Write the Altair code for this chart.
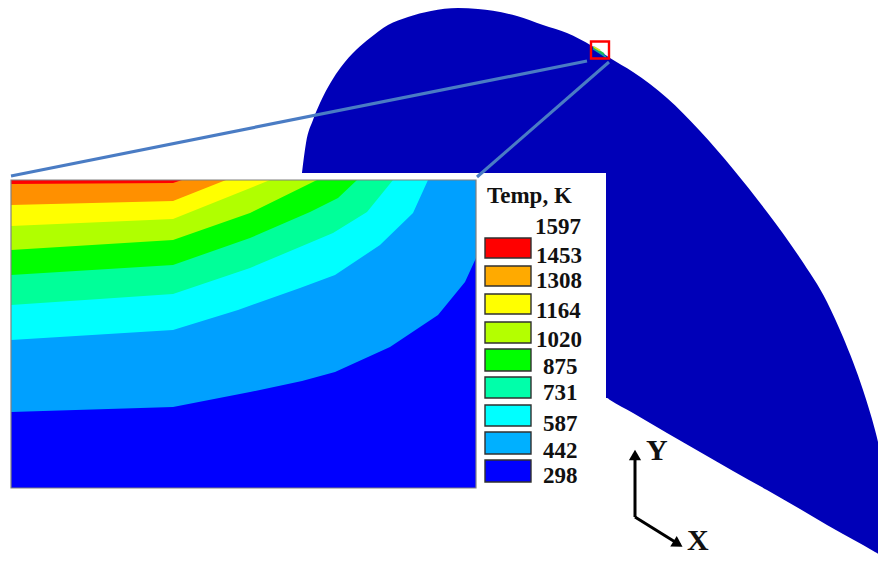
import altair as alt
import pandas as pd

# Outer dome outline
dome_x = [302, 306, 313, 320, 331, 341, 356, 370, 388, 408, 431, 458, 478, 493, 517, 543, 567, 592, 607, 610, 633, 667, 700, 733, 767, 800, 827, 843, 863, 875, 886]
dome_top = [172.7, 143, 120, 103, 82, 67, 50, 38, 25, 17, 11, 8, 9, 10.7, 16, 25, 33, 46, 56, 58, 72, 98, 131, 169, 212, 258, 302, 337, 390, 430, 477]
dome_bottom = [398, 398, 398, 398, 398, 398, 398, 398, 398, 398, 398, 398, 398, 398, 398, 398, 398, 398, 398, 400, 413, 433, 452, 471, 490, 509, 525, 534, 545, 552, 558]

# Isotherm boundaries of the inset, coldest first
iso_colors = ["#0000ff", "#00a0ff", "#00ffff", "#00ff99", "#00ff00", "#b0ff00", "#ffff00", "#ff9000"]
iso_x = [
    [11, 173, 250, 302, 335, 390, 438, 465, 476],
    [11, 173, 238, 300, 335, 380, 413, 428, 476],
    [11, 173, 250, 333, 367, 393, 476],
    [11, 173, 250, 310, 338, 357, 476],
    [11, 173, 250, 317, 476],
    [11, 173, 270, 476],
    [11, 173, 226, 476],
    [11, 173, 182, 476],
]
iso_y = [
    [412, 407, 392, 381, 372, 347, 315, 282, 258],
    [340, 330, 310, 288, 275, 245, 213, 180, 180],
    [305, 294, 268, 233, 212, 180, 180],
    [275, 265, 238, 212, 198, 180, 180],
    [250, 240, 213, 180, 180],
    [226, 219, 180, 180],
    [205, 201, 180, 180],
    [184, 183, 180, 180],
]

# Legend
legend_colors = ["#ff0000", "#ffaa00", "#ffff00", "#b4ff00", "#00ff00", "#00ffaa", "#00ffff", "#00b0ff", "#0000ff"]
legend_top = [238, 266, 294, 322, 349, 377, 405, 432, 460]
legend_bottom = [258, 286, 314, 343, 371, 398, 426, 454, 482]
label_text = ["1597", "1453", "1308", "1164", "1020", "875", "731", "587", "442", "298"]
label_x = [535, 536, 536, 536, 536, 543, 543, 543, 543, 543]
label_y = [234, 263, 288, 318, 347, 374, 400, 431, 458, 483]

# Zoom guides
guide_x = [[11, 587], [477, 609]]
guide_y = [[176, 61], [177, 62]]

# Small coloured strip inside the red box
mini_colors = ["#10a0a0", "#20c050", "#d8e020"]
mini_x = [[593, 606], [593, 604], [594, 600]]
mini_y = [[48.5, 57], [47, 54], [47, 50.5]]

xs = alt.Scale(domain=[8, 878], nice=False, zero=False, padding=0, range=[0, 870])
ys = alt.Scale(domain=[8, 557], nice=False, zero=False, padding=0, range=[0, 549])
X = lambda f="x": alt.X(f"{f}:Q", scale=xs, axis=None)
Y = lambda f="y": alt.Y(f"{f}:Q", scale=ys, axis=None)

layers = []

# dome
layers.append(alt.Chart(pd.DataFrame({"x": dome_x, "y": dome_top, "y2": dome_bottom}))
              .mark_area(color="#0000b8", interpolate="monotone")
              .encode(x=X(), y=Y(), y2="y2:Q"))


def rect(x, x2, y, y2, **kw):
    return alt.Chart(pd.DataFrame({"x": [x], "x2": [x2], "y": [y], "y2": [y2]})).mark_rect(**kw).encode(
        x=X(), x2="x2:Q", y=Y(), y2="y2:Q")


# white panel
layers.append(rect(8, 606, 173, 500, color="#ffffff"))
# inset base (hottest band)
layers.append(rect(11, 476, 180, 488, color="#ff0000"))
# isotherm bands, hottest drawn first
for col, xv, yv in reversed(list(zip(iso_colors, iso_x, iso_y))):
    layers.append(alt.Chart(pd.DataFrame({"x": xv, "y": yv, "y2": [488] * len(xv)}))
                  .mark_area(color=col, interpolate="linear")
                  .encode(x=X(), y=Y(), y2="y2:Q"))
# inset frame
layers.append(rect(11, 476, 180, 488, fillOpacity=0, stroke="#808080", strokeWidth=1.2))

# guides
for xv, yv, w in zip(guide_x, guide_y, [3.2, 3]):
    layers.append(alt.Chart(pd.DataFrame({"x": xv, "y": yv}))
                  .mark_line(color="#4a7cc4", strokeWidth=w)
                  .encode(x=X(), y=Y()))

# mini strip
for col, xv, yv in zip(mini_colors, mini_x, mini_y):
    layers.append(alt.Chart(pd.DataFrame({"x": xv, "y": yv}))
                  .mark_line(color=col, strokeWidth=1.8)
                  .encode(x=X(), y=Y()))
# red box
layers.append(rect(591, 609, 41.5, 58.5, fillOpacity=0, stroke="#ff0000", strokeWidth=2.4))

# legend swatches
layers.append(alt.Chart(pd.DataFrame({"x": [485] * 9, "x2": [531] * 9, "y": legend_top, "y2": legend_bottom, "c": legend_colors}))
              .mark_rect(stroke="#303030", strokeWidth=1.4)
              .encode(x=X(), x2="x2:Q", y=Y(), y2="y2:Q", fill=alt.Fill("c:N", scale=None)))

serif = "Liberation Serif"
layers.append(alt.Chart(pd.DataFrame({"x": label_x, "y": label_y, "t": label_text}))
              .mark_text(align="left", baseline="alphabetic", font=serif, fontWeight="bold", fontSize=23, color="#111111")
              .encode(x=X(), y=Y(), text="t:N"))
layers.append(alt.Chart(pd.DataFrame({"x": [487], "y": [203], "t": ["Temp, K"]}))
              .mark_text(align="left", baseline="alphabetic", font=serif, fontWeight="bold", fontSize=23, color="#111111")
              .encode(x=X(), y=Y(), text="t:N"))

# axis triad
for xv, yv in [([635, 635], [517, 456]), ([635, 680], [517, 545])]:
    layers.append(alt.Chart(pd.DataFrame({"x": xv, "y": yv}))
                  .mark_line(color="#000000", strokeWidth=3)
                  .encode(x=X(), y=Y()))
for px, py, a in [(635, 455, 0), (678, 544, 122)]:
    layers.append(alt.Chart(pd.DataFrame({"x": [px], "y": [py]}))
                  .mark_point(shape="triangle-up", filled=True, color="#000000", opacity=1, size=150, angle=a)
                  .encode(x=X(), y=Y()))
layers.append(alt.Chart(pd.DataFrame({"x": [646, 687], "y": [460, 550], "t": ["Y", "X"]}))
              .mark_text(align="left", baseline="alphabetic", font=serif, fontWeight="bold", fontSize=30, color="#111111")
              .encode(x=X(), y=Y(), text="t:N"))

chart = alt.layer(*layers).properties(
    width=870, height=549, padding=0, background="#ffffff",
    autosize=alt.AutoSizeParams(type="none", contains="padding"),
).configure_view(stroke=None)
chart.save("out.html", embed_options={"renderer": "svg", "actions": False})
